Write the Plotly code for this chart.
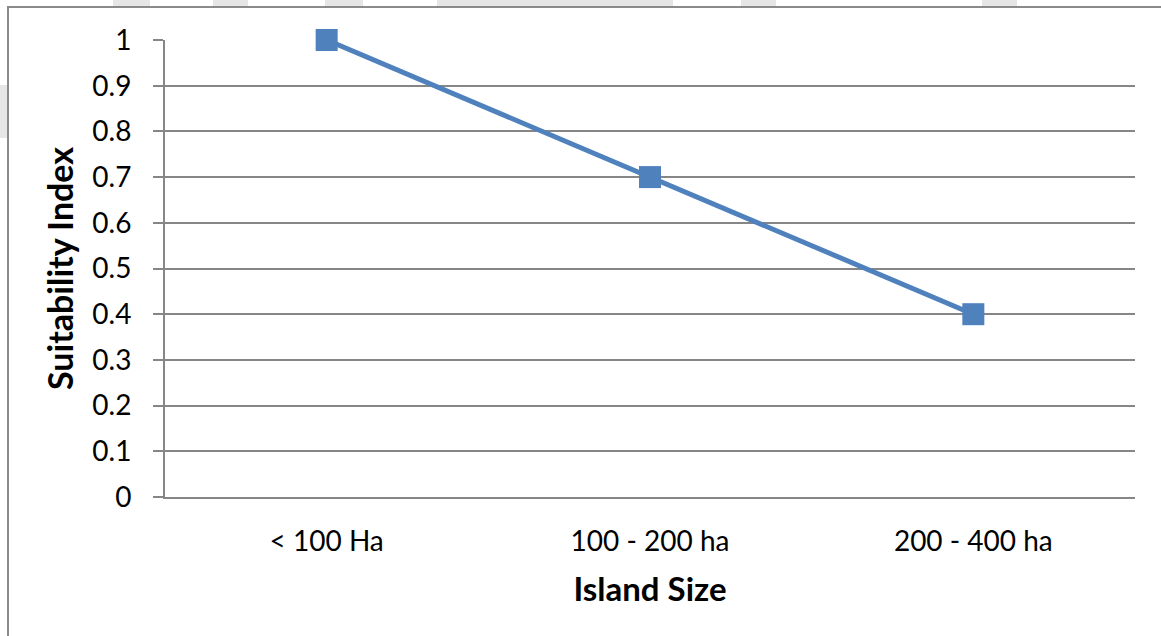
import plotly.graph_objects as go

categories = ["< 100 Ha", "100 - 200 ha", "200 - 400 ha"]
suitability = [1.0, 0.7, 0.4]
y_ticks = [0, 0.1, 0.2, 0.3, 0.4, 0.5, 0.6, 0.7, 0.8, 0.9, 1]
y_tick_labels = ["0", "0.1", "0.2", "0.3", "0.4", "0.5", "0.6", "0.7", "0.8", "0.9", "1"]

W, H = 1161, 636
L, R, T, B = 165, 26, 40, 139
pw, ph = W - L - R, H - T - B

def px(x):
    return (x - L) / pw

def py(y):
    return (H - B - y) / ph

FONT = "Lato"
BLUE = "#4F81BD"
GRID = "#868686"

fig = go.Figure()
fig.add_trace(go.Scatter(
    x=categories, y=suitability, mode="lines+markers",
    line=dict(color=BLUE, width=5),
    marker=dict(symbol="square", size=22, color=BLUE),
    showlegend=False, cliponaxis=False,
))

shapes = []
# faint watermark blocks
for x0, x1, y0, y1 in [(113, 150, 0, 6), (213, 248, 0, 6), (325, 363, 0, 6), (437, 673, 0, 6),
                       (741, 776, 0, 6), (982, 1017, 0, 6), (0, 7, 85, 138)]:
    shapes.append(dict(type="rect", xref="paper", yref="paper",
                       x0=px(x0), x1=px(x1), y0=py(y1), y1=py(y0),
                       fillcolor="#e6e6e6", line=dict(width=0), layer="below"))
# chart frame (left and top)
shapes.append(dict(type="line", xref="paper", yref="paper",
                   x0=px(8), x1=px(8), y0=py(H + 5), y1=py(7),
                   line=dict(color="#8a8a8a", width=2)))
shapes.append(dict(type="line", xref="paper", yref="paper",
                   x0=px(7), x1=px(W + 5), y0=py(7), y1=py(7),
                   line=dict(color="#8a8a8a", width=2)))

fig.update_layout(
    width=W, height=H,
    margin=dict(l=L, r=R, t=T, b=B, pad=0),
    paper_bgcolor="white", plot_bgcolor="white",
    font=dict(family=FONT, color="black", size=28),
    shapes=shapes,
    xaxis=dict(
        type="category", range=[-0.5, 2.5],
        showgrid=False, zeroline=False,
        showline=True, linecolor=GRID, linewidth=2,
        ticks="", ticklabelstandoff=18,
        tickfont=dict(family=FONT, size=28),
        title=dict(text="<b>Island Size</b>", font=dict(family=FONT, size=33), standoff=22),
        fixedrange=True,
    ),
    yaxis=dict(
        range=[0, 1], tickvals=y_ticks, ticktext=y_tick_labels,
        showgrid=True, gridcolor=GRID, gridwidth=2,
        zeroline=False, showline=True, linecolor=GRID, linewidth=2,
        ticks="outside", ticklen=10, tickcolor=GRID, tickwidth=2,
        tickfont=dict(family=FONT, size=28),
        ticklabelstandoff=16,
        title=dict(text="<b>Suitability Index</b>", font=dict(family=FONT, size=34), standoff=8),
        fixedrange=True,
    ),
)

fig.write_html("out.html", config={"displayModeBar": False},
               post_script="document.body.style.margin='0';document.body.style.overflow='hidden';")
